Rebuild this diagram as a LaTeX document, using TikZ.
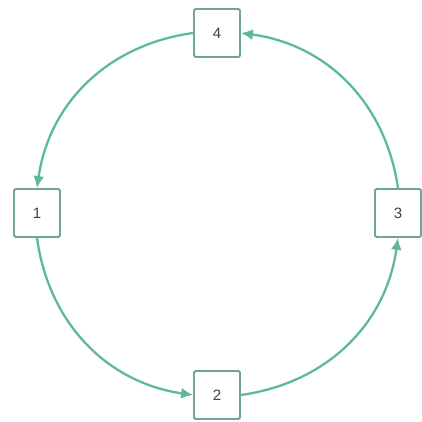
\documentclass[tikz,border=0pt]{standalone}
\usepackage{fontspec}
\setmainfont{Liberation Sans}
\usepackage{xcolor}
\usepackage{tikz}
\usetikzlibrary{arrows.meta}

\definecolor{cycgreen}{HTML}{5DBA95}
\definecolor{boxgreen}{HTML}{6FA78D}

\begin{document}
\begin{tikzpicture}[
    x=1pt, y=1pt,
    state/.style={rectangle, rounded corners=1.5pt, draw=boxgreen, line width=1.8pt,
                  fill=white, minimum width=46pt, minimum height=48pt,
                  font=\fontsize{15}{17}\selectfont, text=black!75},
    arrow/.style={-{Latex[length=12pt, width=11pt]}, line width=2.3pt, cycgreen}
]
\useasboundingbox (0,0) rectangle (422,422);

% States on the circle
\node[state] (s4) at (217,389) {4};
\node[state] (s1) at (37,209) {1};
\node[state] (s2) at (217,27) {2};
\node[state] (s3) at (398,209) {3};

% Cycle
\draw[arrow] (s4.west) to[bend right=37] (s1.north);
\draw[arrow] (s1.south) to[bend right=37] (s2.west);
\draw[arrow] (s2.east) to[bend right=37] (s3.south);
\draw[arrow] (s3.north) to[bend right=37] (s4.east);

\end{tikzpicture}
\end{document}
